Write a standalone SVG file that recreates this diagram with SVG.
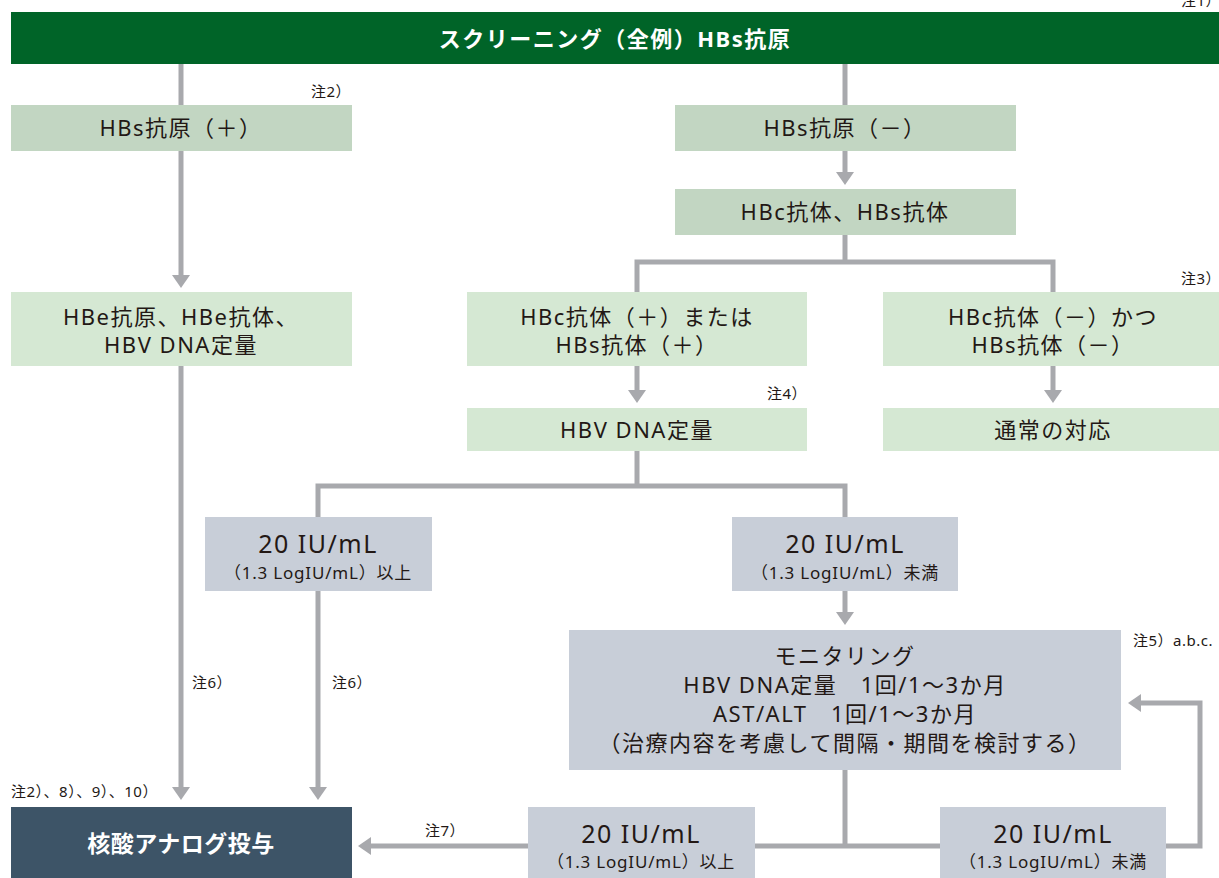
<svg xmlns="http://www.w3.org/2000/svg" width="1219" height="878" viewBox="0 0 1219 878">
<defs>
<marker id="ah" markerUnits="userSpaceOnUse" markerWidth="14" markerHeight="20" refX="0" refY="9" orient="auto" overflow="visible">
<path d="M0,0 L13,9 L0,18 z" fill="#a8a9ad"/>
</marker>
<style>
.ln{fill:none;stroke:#a8a9ad;stroke-width:5}
.ar{fill:none;stroke:#a8a9ad;stroke-width:5;marker-end:url(#ah)}
.t{font-family:"Noto Sans","Noto Sans CJK JP",sans-serif;fill:#231815;text-anchor:middle}
.m{font-size:22px;letter-spacing:1.5px}
.b{font-size:25px;letter-spacing:1.5px}
.s{font-size:17px;letter-spacing:0.8px}
.n{font-family:"Noto Sans","Noto Sans CJK JP",sans-serif;fill:#231815;font-size:15px;letter-spacing:0.5px}
.g1{fill:#c2d6c2}
.g2{fill:#d5e8d3}
.gb{fill:#c8ced8}
</style>
</defs>
<rect width="1219" height="878" fill="#ffffff"/>
<g id="connectors">
<line class="ln" x1="181" y1="64" x2="181" y2="105"/>
<line class="ln" x1="845" y1="64" x2="845" y2="105"/>
<line class="ar" x1="845" y1="151" x2="845" y2="172"/>
<polyline class="ln" points="845,235 845,262"/>
<polyline class="ln" points="637,292 637,262 1053,262 1053,292"/>
<line class="ar" x1="181" y1="151" x2="181" y2="275"/>
<line class="ar" x1="637" y1="366" x2="637" y2="390"/>
<line class="ar" x1="1053" y1="366" x2="1053" y2="390"/>
<polyline class="ln" points="637,451 637,486"/>
<polyline class="ln" points="318,517 318,486 845,486 845,517"/>
<line class="ar" x1="845" y1="591" x2="845" y2="612"/>
<line class="ar" x1="181" y1="366" x2="181" y2="787"/>
<line class="ar" x1="318" y1="591" x2="318" y2="787"/>
<polyline class="ln" points="845,770 845,846"/>
<line class="ln" x1="755" y1="846" x2="940" y2="846"/>
<line class="ar" x1="528" y1="846" x2="371" y2="846"/>
<polyline class="ar" points="1166,846 1200,846 1200,703 1141,703"/>
</g>
<g id="n-screening">
<rect x="11" y="12" width="1208" height="52" fill="#006428"/>
<text class="t" x="615" y="47" font-size="22" font-weight="bold" letter-spacing="1.5" style="fill:#ffffff">スクリーニング（全例）HBs抗原</text>
</g>
<g id="n-hbsag-pos">
<rect class="g1" x="11" y="105" width="341" height="46"/>
<text class="t m" x="181" y="136">HBs抗原（＋）</text>
</g>
<g id="n-hbsag-neg">
<rect class="g1" x="675" y="105" width="341" height="46"/>
<text class="t m" x="845" y="136">HBs抗原（－）</text>
</g>
<g id="n-hbc-hbs">
<rect class="g1" x="675" y="189" width="341" height="46"/>
<text class="t m" x="845" y="220">HBc抗体、HBs抗体</text>
</g>
<g id="n-hbe">
<rect class="g2" x="11" y="292" width="341" height="74"/>
<text class="t m" x="181" y="325">HBe抗原、HBe抗体、</text>
<text class="t m" x="181" y="353">HBV DNA定量</text>
</g>
<g id="n-hbc-pos">
<rect class="g2" x="467" y="292" width="340" height="74"/>
<text class="t m" x="637" y="325">HBc抗体（＋）または</text>
<text class="t m" x="637" y="353">HBs抗体（＋）</text>
</g>
<g id="n-hbc-neg">
<rect class="g2" x="883" y="292" width="336" height="74"/>
<text class="t m" x="1053" y="325">HBc抗体（－）かつ</text>
<text class="t m" x="1053" y="353">HBs抗体（－）</text>
</g>
<g id="n-dna">
<rect class="g2" x="467" y="408" width="340" height="43"/>
<text class="t m" x="637" y="438">HBV DNA定量</text>
</g>
<g id="n-normal">
<rect class="g2" x="883" y="408" width="336" height="43"/>
<text class="t m" x="1053" y="438">通常の対応</text>
</g>
<g id="n-ge20-a">
<rect class="gb" x="205" y="517" width="227" height="74"/>
<text class="t b" x="318" y="553">20 IU/mL</text>
<text class="t s" x="318" y="579">（1.3 LogIU/mL）以上</text>
</g>
<g id="n-lt20-a">
<rect class="gb" x="732" y="517" width="226" height="74"/>
<text class="t b" x="845" y="553">20 IU/mL</text>
<text class="t s" x="845" y="579">（1.3 LogIU/mL）未満</text>
</g>
<g id="n-monitor">
<rect class="gb" x="569" y="630" width="552" height="140"/>
<text class="t m" x="845" y="664">モニタリング</text>
<text class="t m" x="845" y="693">HBV DNA定量　1回/1～3か月</text>
<text class="t m" x="845" y="722">AST/ALT　1回/1～3か月</text>
<text class="t m" x="845" y="751">（治療内容を考慮して間隔・期間を検討する）</text>
</g>
<g id="n-nuc">
<rect x="11" y="807" width="341" height="71" fill="#3d5467"/>
<text class="t" x="181" y="852" font-size="23" font-weight="bold" letter-spacing="0.5" style="fill:#ffffff">核酸アナログ投与</text>
</g>
<g id="n-ge20-b">
<rect class="gb" x="528" y="807" width="227" height="71"/>
<text class="t b" x="641" y="843">20 IU/mL</text>
<text class="t s" x="641" y="868">（1.3 LogIU/mL）以上</text>
</g>
<g id="n-lt20-b">
<rect class="gb" x="940" y="807" width="226" height="71"/>
<text class="t b" x="1053" y="843">20 IU/mL</text>
<text class="t s" x="1053" y="868">（1.3 LogIU/mL）未満</text>
</g>
<g id="notes">
<text class="n" x="1181" y="6" letter-spacing="0">注1）</text>
<text class="n" x="311" y="97">注2）</text>
<text class="n" x="1181" y="284" letter-spacing="0">注3）</text>
<text class="n" x="767" y="399">注4）</text>
<text class="n" x="1133" y="646">注5）a.b.c.</text>
<text class="n" x="192" y="688">注6）</text>
<text class="n" x="332" y="688">注6）</text>
<text class="n" x="11" y="797">注2）、8）、9）、10）</text>
<text class="n" x="425" y="836">注7）</text>
</g>
</svg>
